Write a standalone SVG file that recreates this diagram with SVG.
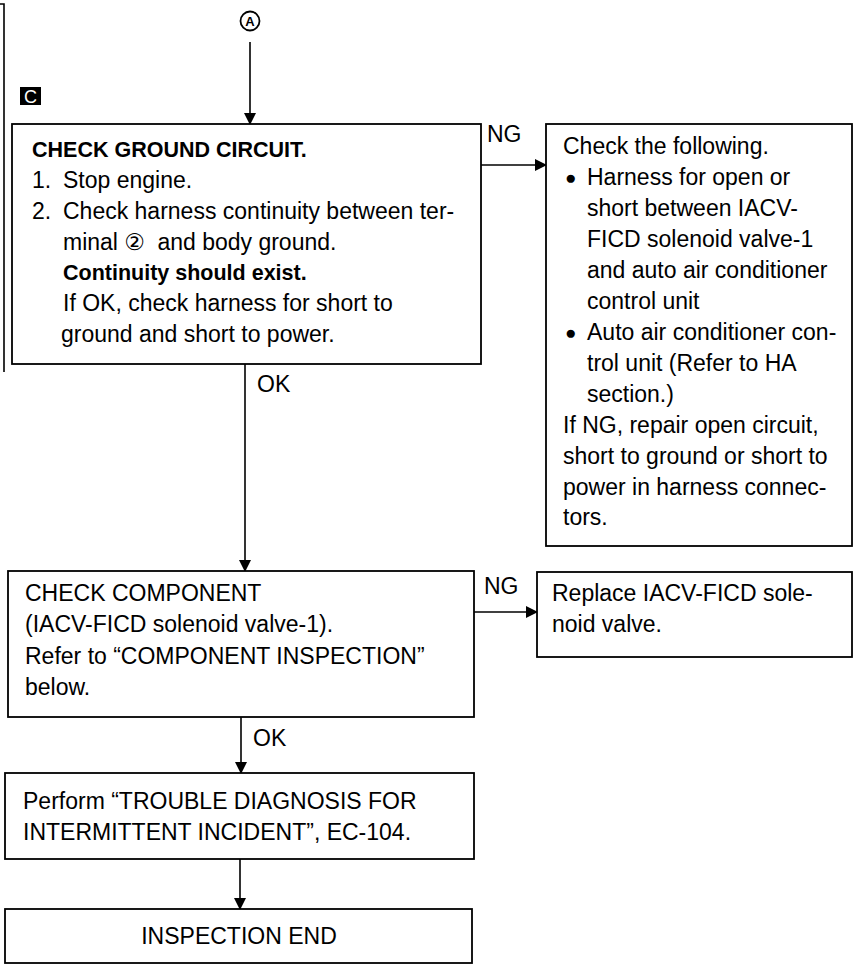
<svg xmlns="http://www.w3.org/2000/svg" width="859" height="965" viewBox="0 0 859 965">
<defs>
<marker id="ah" markerUnits="userSpaceOnUse" markerWidth="12" markerHeight="12" refX="11" refY="6" orient="auto">
<path d="M0,0 L12,6 L0,12 Z" fill="#000"/>
</marker>
<style>
.box{fill:#fff;stroke:#000;stroke-width:1.8}
.t{font-family:"Liberation Sans",Arial,Helvetica,"DejaVu Sans","Noto Sans CJK JP",sans-serif;font-size:23px;fill:#000}
.b{font-weight:bold;font-size:21.5px}
.bul{font-size:19px}
.ln{stroke:#000;stroke-width:1.6;fill:none}
</style>
</defs>
<rect width="859" height="965" fill="#fff"/>
<path class="ln" d="M0,4 H4 V372"/>
<g id="labelA">
<circle cx="250" cy="21" r="9.5" fill="none" stroke="#000" stroke-width="1.8"/>
<text x="250" y="25.8" text-anchor="middle" font-family="Liberation Sans,Arial,sans-serif" font-weight="bold" font-size="13">A</text>
</g>
<g id="labelC">
<rect x="20" y="87" width="21" height="18" fill="#000"/>
<text x="30.5" y="103" text-anchor="middle" font-family="Liberation Sans,Arial,sans-serif" font-size="18" fill="#fff">C</text>
</g>
<g id="connectors">
<line class="ln" x1="250" y1="42" x2="250" y2="124" marker-end="url(#ah)"/>
<line class="ln" x1="481" y1="165" x2="546" y2="165" marker-end="url(#ah)"/>
<line class="ln" x1="245" y1="364" x2="245" y2="571" marker-end="url(#ah)"/>
<line class="ln" x1="474" y1="612" x2="537" y2="612" marker-end="url(#ah)"/>
<line class="ln" x1="241" y1="717" x2="241" y2="773" marker-end="url(#ah)"/>
<line class="ln" x1="240" y1="859" x2="240" y2="909" marker-end="url(#ah)"/>
<text class="t" x="487" y="142">NG</text>
<text class="t" x="257" y="392">OK</text>
<text class="t" x="484" y="594">NG</text>
<text class="t" x="253" y="746">OK</text>
</g>
<g id="node1">
<rect class="box" x="12" y="124" width="469" height="240"/>
<text class="t b" x="32" y="157">CHECK GROUND CIRCUIT.</text>
<text class="t" x="32" y="188">1.<tspan x="63">Stop engine.</tspan></text>
<text class="t" x="32" y="219">2.<tspan x="63">Check harness continuity between ter-</tspan></text>
<text class="t" x="63" y="250">minal ② <tspan dx="6">and body ground.</tspan></text>
<text class="t b" x="63" y="280">Continuity should exist.</text>
<text class="t" x="63" y="311">If OK, check harness for short to</text>
<text class="t" x="61" y="342">ground and short to power.</text>
</g>
<g id="node2">
<rect class="box" x="546" y="124" width="306" height="422"/>
<text class="t" x="563" y="154">Check the following.</text>
<text class="t" x="565" y="185"><tspan class="bul" dy="-1">●</tspan><tspan x="587" dy="1">Harness for open or</tspan></text>
<text class="t" x="587" y="216">short between IACV-</text>
<text class="t" x="587" y="247">FICD solenoid valve-1</text>
<text class="t" x="587" y="278">and auto air conditioner</text>
<text class="t" x="587" y="309">control unit</text>
<text class="t" x="565" y="340"><tspan class="bul" dy="-1">●</tspan><tspan x="587" dy="1">Auto air conditioner con-</tspan></text>
<text class="t" x="587" y="371">trol unit (Refer to HA</text>
<text class="t" x="587" y="402">section.)</text>
<text class="t" x="563" y="433">If NG, repair open circuit,</text>
<text class="t" x="563" y="464">short to ground or short to</text>
<text class="t" x="563" y="495">power in harness connec-</text>
<text class="t" x="563" y="525">tors.</text>
</g>
<g id="node3">
<rect class="box" x="8" y="571" width="466" height="146"/>
<text class="t" x="25" y="601">CHECK COMPONENT</text>
<text class="t" x="25" y="632">(IACV-FICD solenoid valve-1).</text>
<text class="t" x="25" y="664">Refer to “COMPONENT INSPECTION”</text>
<text class="t" x="25" y="695">below.</text>
</g>
<g id="node4">
<rect class="box" x="537" y="572" width="315" height="85"/>
<text class="t" x="552" y="601">Replace IACV-FICD sole-</text>
<text class="t" x="552" y="632">noid valve.</text>
</g>
<g id="node5">
<rect class="box" x="5" y="773" width="469" height="86"/>
<text class="t" x="23" y="809">Perform “TROUBLE DIAGNOSIS FOR</text>
<text class="t" x="23" y="840">INTERMITTENT INCIDENT”, EC-104.</text>
</g>
<g id="node6">
<rect class="box" x="5" y="909" width="467" height="54"/>
<text class="t" x="239" y="944" text-anchor="middle">INSPECTION END</text>
</g>
</svg>
